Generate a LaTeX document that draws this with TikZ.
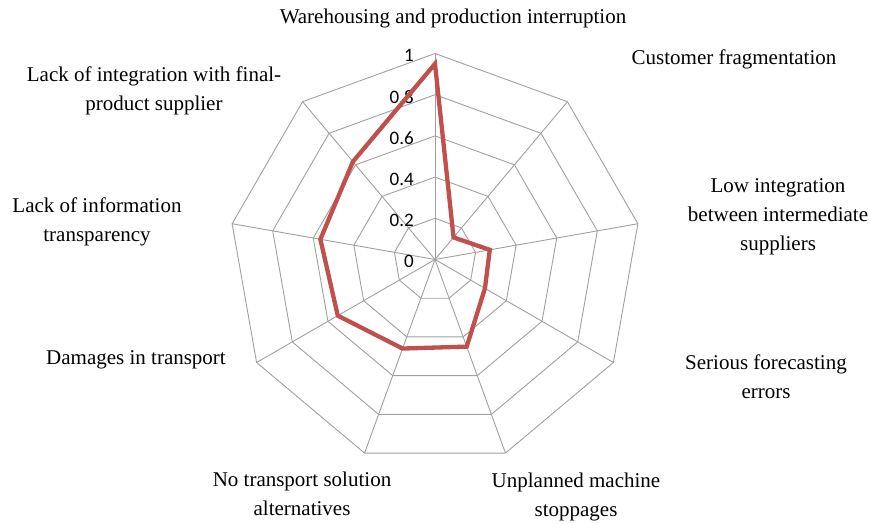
\documentclass[tikz,border=0pt]{standalone}
\usepackage{fontspec}
\setmainfont{Liberation Serif}
\newfontfamily\tickfont{Carlito}
\definecolor{gridgray}{RGB}{160,160,160}
\definecolor{seriesred}{RGB}{192,80,77}
\begin{document}
\begin{tikzpicture}[x=1pt,y=1pt]
% radius of the outer ring
\def\rad{206}
% style definitions
\tikzstyle{grid} = [draw=gridgray, line width=0.9pt];
\tikzstyle{series} = [draw=seriesred, line width=4.3pt];
\tikzstyle{axislabel} = [align=center, inner sep=0pt, font=\fontsize{21}{29}\selectfont];
\tikzstyle{ticklabel} = [anchor=east, inner sep=0pt, font=\tickfont\fontsize{19}{19}\selectfont];
\useasboundingbox (0,0) rectangle (870,523);
\coordinate (c) at (435,263.5);

\begin{scope}[shift={(c)}]
% rings
\foreach \k in {0.2,0.4,0.6,0.8,1}
  \draw[grid] (90:{\k*\rad}) \foreach \i in {1,...,8} { -- ({90-40*\i}:{\k*\rad}) } -- cycle;
% spokes
\foreach \i in {0,...,8}
  \draw[grid] (0,0) -- ({90-40*\i}:\rad);
% scale values
\foreach \t [count=\n from 0] in {0,0.2,0.4,0.6,0.8,1}
  \node[ticklabel] (tick\n) at (-21,{0.2*\n*\rad-2}) {\t};
% data values
\foreach \v [count=\n from 0] in {0.95,0.14,0.27,0.28,0.45,0.46,0.545,0.565,0.62}
  \coordinate (p\n) at ({90-40*\n}:{\v*\rad});
\draw[series] (p0) -- (p1) -- (p2) -- (p3) -- (p4) -- (p5) -- (p6) -- (p7) -- (p8) -- cycle;
\end{scope}

% category labels
\node[axislabel] (warehousing) at (453,505) {Warehousing and production interruption};
\node[axislabel] (customer) at (734,464) {Customer fragmentation};
\node[axislabel] (lowint) at (778,306) {Low integration\\between intermediate\\suppliers};
\node[axislabel] (forecast) at (766,146) {Serious forecasting\\errors};
\node[axislabel] (machine) at (576,26) {Unplanned machine\\stoppages};
\node[axislabel] (transport) at (302,29) {No transport solution\\alternatives};
\node[axislabel] (damages) at (136,163) {Damages in transport};
\node[axislabel] (information) at (97,301) {Lack of information\\transparency};
\node[axislabel] (finalprod) at (154,432.5) {Lack of integration with final-\\product supplier};
\end{tikzpicture}
\end{document}
